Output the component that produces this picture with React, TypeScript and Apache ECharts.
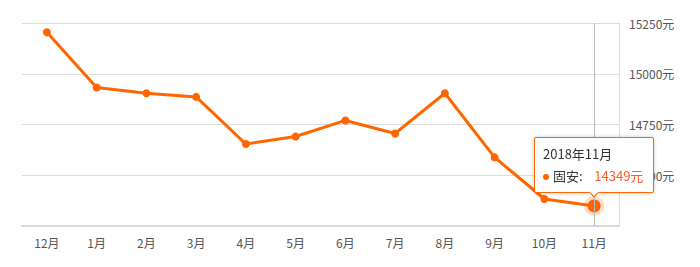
import React, { useEffect, useRef } from "react";
import * as echarts from "echarts";

const categories = ["12月", "1月", "2月", "3月", "4月", "5月", "6月", "7月", "8月", "9月", "10月", "11月"];
const fullDates = ["2017年12月", "2018年1月", "2018年2月", "2018年3月", "2018年4月", "2018年5月", "2018年6月", "2018年7月", "2018年8月", "2018年9月", "2018年10月", "2018年11月"];
const prices = [15204, 14932, 14904, 14886, 14654, 14691, 14770, 14706, 14904, 14588, 14383, 14349];
const seriesName = "固安";
const highlightIndex = 11;

const FONT = "'Microsoft YaHei', 'Noto Sans CJK SC', sans-serif";
const ORANGE = "#ff6600";

export default function App() {
  const ref = useRef<HTMLDivElement>(null);
  useEffect(() => {
    if (!ref.current) return;
    document.body.style.margin = "0";
    const chart = echarts.init(ref.current, null, { renderer: "svg" });
    const data = prices.map((v, i) =>
      i === highlightIndex
        ? {
            value: v,
            symbolSize: 13,
            itemStyle: { color: ORANGE, borderColor: "rgba(255,102,0,0.22)", borderWidth: 7 },
          }
        : v
    );
    chart.setOption({
      animation: false,
      textStyle: { fontFamily: FONT },
      grid: { left: 22, right: 81, top: 23, bottom: 41 },
      tooltip: {
        trigger: "item",
        position: "top",
        alwaysShowContent: true,
        backgroundColor: "#fff",
        borderColor: ORANGE,
        borderWidth: 1,
        borderRadius: 2,
        padding: [5, 8, 5, 8],
        extraCssText: "box-shadow: 0 0 4px rgba(0,0,0,0.2); margin-top: 7px;",
        formatter: (p: any) =>
          `<div style="font-family:${FONT};font-size:13px;color:#333;line-height:22px;width:102px;white-space:nowrap">` +
          `<div>${fullDates[p.dataIndex]}</div>` +
          `<div><span style="display:inline-block;width:6px;height:6px;border-radius:3px;background:${ORANGE};margin-right:4px;vertical-align:middle"></span>` +
          `${seriesName}:&nbsp;&nbsp;&nbsp;&nbsp;<span style="color:#ff5a2a;font-size:13px">${p.value}元</span></div>` +
          `</div>`,
      },
      xAxis: {
        type: "category",
        data: categories,
        boundaryGap: true,
        axisLine: { lineStyle: { color: "#d9d9d9", width: 2 } },
        axisTick: { alignWithLabel: true, length: 4, lineStyle: { color: "#d9d9d9" } },
        axisLabel: { color: "#555", fontSize: 12, margin: 10, fontFamily: FONT },
        axisPointer: {
          show: true,
          type: "line",
          value: highlightIndex,
          status: "show",
          triggerTooltip: false,
          snap: true,
          lineStyle: { color: "#bbb", width: 1, type: "solid" },
          label: { show: false },
        },
      },
      yAxis: {
        type: "value",
        position: "right",
        min: 14250,
        max: 15250,
        interval: 250,
        axisLine: { show: true, lineStyle: { color: "#ddd" } },
        axisTick: { show: false },
        splitLine: { lineStyle: { color: "#ddd" } },
        axisLabel: {
          color: "#555",
          fontSize: 12,
          margin: 10,
          fontFamily: FONT,
          showMinLabel: false,
          formatter: (v: number) => `${v}元`,
        },
      },
      series: [
        {
          name: seriesName,
          type: "line",
          data,
          symbol: "circle",
          symbolSize: 8,
          lineStyle: { color: ORANGE, width: 3 },
          itemStyle: { color: ORANGE },
          emphasis: { disabled: true },
        },
      ],
    });
    chart.dispatchAction({ type: "showTip", seriesIndex: 0, dataIndex: highlightIndex });
    return () => chart.dispose();
  }, []);
  return <div ref={ref} style={{ position: "absolute", left: 0, top: 0, width: 700, height: 267 }} />;
}
